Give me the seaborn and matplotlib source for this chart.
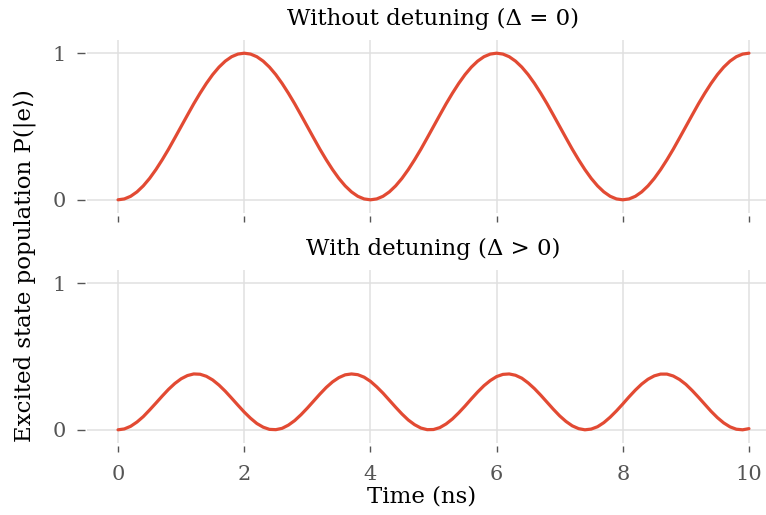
import numpy as np
import matplotlib
matplotlib.use("Agg")
import matplotlib.pyplot as plt
import seaborn as sns

# ---- data ----
time_ns = np.linspace(0, 10, 101)

p_no_detuning = [
    0.000, 0.006, 0.024, 0.054, 0.095, 0.146, 0.206, 0.273, 0.345, 0.422,
    0.500, 0.578, 0.655, 0.727, 0.794, 0.854, 0.905, 0.946, 0.976, 0.994,
    1.000, 0.994, 0.976, 0.946, 0.905, 0.854, 0.794, 0.727, 0.655, 0.578,
    0.500, 0.422, 0.345, 0.273, 0.206, 0.146, 0.095, 0.054, 0.024, 0.006,
    0.000, 0.006, 0.024, 0.054, 0.095, 0.146, 0.206, 0.273, 0.345, 0.422,
    0.500, 0.578, 0.655, 0.727, 0.794, 0.854, 0.905, 0.946, 0.976, 0.994,
    1.000, 0.994, 0.976, 0.946, 0.905, 0.854, 0.794, 0.727, 0.655, 0.578,
    0.500, 0.422, 0.345, 0.273, 0.206, 0.146, 0.095, 0.054, 0.024, 0.006,
    0.000, 0.006, 0.024, 0.054, 0.095, 0.146, 0.206, 0.273, 0.345, 0.422,
    0.500, 0.578, 0.655, 0.727, 0.794, 0.854, 0.905, 0.946, 0.976, 0.994,
    1.000,
]

p_detuned = [
    0.000, 0.006, 0.024, 0.053, 0.090, 0.135, 0.182, 0.230, 0.276, 0.316,
    0.348, 0.370, 0.381, 0.379, 0.365, 0.340, 0.305, 0.263, 0.216, 0.168,
    0.121, 0.079, 0.043, 0.018, 0.003, 0.001, 0.010, 0.032, 0.063, 0.103,
    0.148, 0.196, 0.244, 0.289, 0.327, 0.356, 0.375, 0.381, 0.376, 0.359,
    0.331, 0.293, 0.250, 0.202, 0.154, 0.108, 0.067, 0.035, 0.012, 0.001,
    0.002, 0.015, 0.040, 0.074, 0.116, 0.162, 0.211, 0.258, 0.301, 0.336,
    0.363, 0.378, 0.381, 0.372, 0.352, 0.320, 0.281, 0.236, 0.188, 0.140,
    0.095, 0.057, 0.027, 0.008, 0.000, 0.005, 0.021, 0.049, 0.086, 0.129,
    0.176, 0.225, 0.271, 0.312, 0.345, 0.368, 0.380, 0.380, 0.367, 0.343,
    0.310, 0.268, 0.222, 0.174, 0.126, 0.083, 0.047, 0.020, 0.004, 0.000,
    0.008,
]

panel_titles = ["Without detuning (\u0394 = 0)", "With detuning (\u0394 > 0)"]
x_ticks = [0, 2, 4, 6, 8, 10]
y_ticks = [0, 1]
x_label = "Time (ns)"
y_label = "Excited state population P(|e\u27e9)"

# ---- style ----
sns.set_theme(style="whitegrid")
FAM = ["DejaVu Serif", "DejaVu Sans"]
plt.rcParams["font.family"] = FAM
LINE = "#E24A33"
TICKC = "#555555"
FS_TICK = 15
FS_TITLE = 16.5
FS_XLAB = 16.5
FS_YLAB = 16.5

fig = plt.figure(figsize=(7.66, 5.15), dpi=100)
W, H = 766, 515
ax1 = fig.add_axes([86.5 / W, 1 - 213 / H, 694 / W, 173 / H])
ax2 = fig.add_axes([86.5 / W, 1 - 443 / H, 694 / W, 173 / H])

for ax, vals, title in [(ax1, p_no_detuning, panel_titles[0]),
                        (ax2, p_detuned, panel_titles[1])]:
    sns.lineplot(x=time_ns, y=vals, ax=ax, color=LINE, linewidth=2.3)
    ax.set_xlim(-0.5, 10.5)
    ax.set_ylim(-0.09, 1.09)
    ax.set_xticks(x_ticks)
    ax.set_yticks(y_ticks)
    ax.set_xticklabels([str(v) for v in x_ticks])
    ax.set_yticklabels([str(v) for v in y_ticks])
    ax.set_facecolor("white")
    ax.grid(True, color="#e0e0e0", linewidth=1.1)
    for s in ax.spines.values():
        s.set_visible(False)
    ax.spines["bottom"].set_position(("outward", 2.5))
    ax.spines["left"].set_position(("outward", 1))
    ax.tick_params(axis="x", bottom=True, length=4.5, width=1.0, color=TICKC,
                   direction="out", pad=9, labelsize=FS_TICK, labelcolor=TICKC)
    ax.tick_params(axis="y", left=True, length=6, width=1.0, color=TICKC,
                   direction="out", pad=8, labelsize=FS_TICK, labelcolor=TICKC)
    ax.set_xlabel("")
    ax.set_ylabel("")
    ax.set_title(title, fontsize=FS_TITLE, pad=11, color="black")

ax1.tick_params(axis="x", labelbottom=False)
ax2.set_xlabel(x_label, fontsize=FS_XLAB, color="black")
ax2.xaxis.set_label_coords((422 - 86.5) / 694, -0.245)
fig.text(25 / W, 1 - 266 / H, y_label, rotation=90, fontsize=FS_YLAB,
         ha="center", va="center", family=FAM, color="black")

fig.savefig("out.png", dpi=100)
